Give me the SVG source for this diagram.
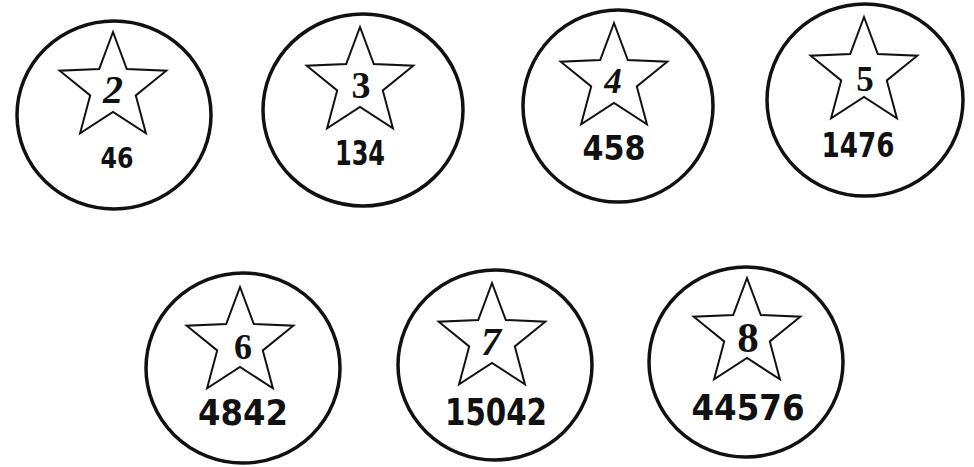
<svg xmlns="http://www.w3.org/2000/svg" xmlns:xlink="http://www.w3.org/1999/xlink" width="974" height="467" viewBox="0 0 974 467">
<style>
.ring{fill:none;stroke:#111;stroke-width:3.5}
.star{fill:#fff;stroke:#111;stroke-width:2;stroke-linejoin:miter}
.d{font-family:"Liberation Serif","DejaVu Serif",serif;font-weight:bold;fill:#111;text-anchor:middle}
.n{font-family:"DejaVu Sans Condensed","DejaVu Sans","Liberation Sans",sans-serif;font-weight:bold;fill:#111;text-anchor:middle}
</style>
<defs>
<polygon id="star" points="0,-56 13.8,-19 53.3,-17.3 22.8,7.4 32.9,45.3 0,24 -32.9,45.3 -22.8,7.4 -53.3,-17.3 -13.8,-19"/>
</defs>
<rect width="974" height="467" fill="#fff"/>
<g id="node-2">
<ellipse class="ring" cx="114" cy="115" rx="97" ry="94"/>
<use xlink:href="#star" class="star" x="113" y="88"/>
<text class="d" x="113" y="103" font-size="40" font-style="italic">2</text>
<text class="n" x="117" y="168" font-size="28" textLength="33" lengthAdjust="spacingAndGlyphs">46</text>
</g>
<g id="node-3">
<ellipse class="ring" cx="363" cy="110" rx="100" ry="96"/>
<use xlink:href="#star" class="star" x="360" y="83"/>
<text class="d" x="361" y="98" font-size="38">3</text>
<text class="n" x="360" y="165" font-size="34" textLength="50" lengthAdjust="spacingAndGlyphs">134</text>
</g>
<g id="node-4">
<ellipse class="ring" cx="618" cy="106" rx="95" ry="96"/>
<use xlink:href="#star" class="star" x="614" y="79"/>
<text class="d" x="613" y="93" font-size="35" font-weight="normal" font-style="italic">4</text>
<text class="n" x="614" y="160" font-size="34" textLength="63" lengthAdjust="spacingAndGlyphs">458</text>
</g>
<g id="node-5">
<ellipse class="ring" cx="865" cy="100" rx="98" ry="96"/>
<use xlink:href="#star" class="star" x="864" y="73"/>
<text class="d" x="865" y="91" font-size="35" font-weight="normal">5</text>
<text class="n" x="858" y="157" font-size="34" textLength="73" lengthAdjust="spacingAndGlyphs">1476</text>
</g>
<g id="node-6">
<ellipse class="ring" cx="243" cy="368" rx="97" ry="95"/>
<use xlink:href="#star" class="star" x="240" y="343"/>
<text class="d" x="243" y="359" font-size="36">6</text>
<text class="n" x="243" y="425" font-size="36" textLength="90" lengthAdjust="spacingAndGlyphs">4842</text>
</g>
<g id="node-7">
<ellipse class="ring" cx="495" cy="365" rx="97" ry="95"/>
<use xlink:href="#star" class="star" x="492" y="339"/>
<text class="d" x="491" y="355" font-size="40" font-style="italic">7</text>
<text class="n" x="496" y="425" font-size="37" textLength="102" lengthAdjust="spacingAndGlyphs">15042</text>
</g>
<g id="node-8">
<ellipse class="ring" cx="746" cy="362" rx="97" ry="95"/>
<use xlink:href="#star" class="star" x="747" y="334"/>
<text class="d" x="748" y="352" font-size="43">8</text>
<text class="n" x="748" y="420" font-size="36" textLength="113" lengthAdjust="spacingAndGlyphs">44576</text>
</g>
</svg>
